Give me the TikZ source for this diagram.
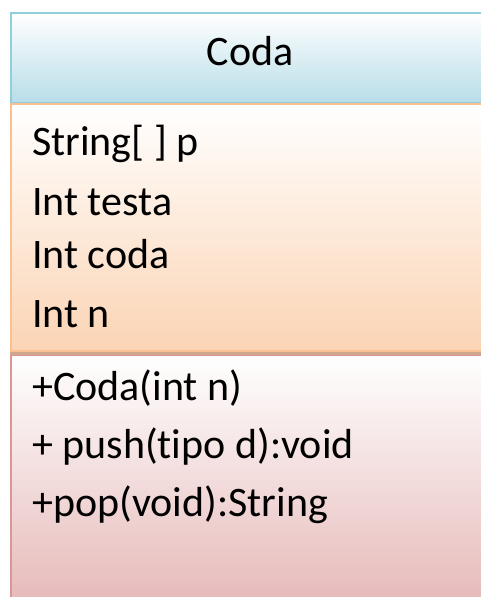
\documentclass[tikz,border=0pt]{standalone}
\usepackage{fontspec}
\setmainfont[Ligatures=NoCommon]{Carlito}
\usepackage{xcolor}
\usepackage{tikz}
\usetikzlibrary{positioning}

\definecolor{hdrblue}{RGB}{183,221,232}
\definecolor{hdrline}{RGB}{146,205,220}
\definecolor{attrpeach}{RGB}{251,212,180}
\definecolor{attrline}{RGB}{250,192,144}
\definecolor{methpink}{RGB}{229,184,183}
\definecolor{methline}{RGB}{217,150,148}
\definecolor{sepbrown}{RGB}{205,168,138}

\tikzset{
  member/.style={anchor=base west,inner sep=0pt,font=\fontsize{42}{50}\selectfont},
  classname/.style={anchor=base,inner sep=0pt,font=\fontsize{42}{50}\selectfont}
}

\begin{document}
\begin{tikzpicture}[x=1pt,y=1pt,yscale=-1,xscale=1]
\useasboundingbox (0,0) rectangle (481,597);
\clip (0,0) rectangle (481,597);

%Shape: Rectangle [header]
\draw [hdrline, line width=2, top color=white, bottom color=hdrblue] (10.5,13) rectangle (495,103) ;
%Shape: Rectangle [attributes]
\draw [attrline, line width=2, top color=white, bottom color=attrpeach] (10.5,104) rectangle (495,351) ;
%Shape: Rectangle [methods]
\draw [methline, line width=2, top color=white, bottom color=methpink] (10.5,355) rectangle (495,610) ;
%Straight Lines [separator]
\draw [sepbrown, line width=3] (10,353.5) -- (495,353.5) ;

% Text Node
\node [classname] (clsname) at (250,65) {Coda};
% Text Node
\node [member] (attrp) at (32,155) {String[ ] p};
% Text Node
\node [member] (attrtesta) at (32,215) {Int testa};
% Text Node
\node [member] (attrcoda) at (32,268) {Int coda};
% Text Node
\node [member] (attrn) at (32,327) {Int n};
% Text Node
\node [member] (methctor) at (32,400) {+Coda(int n)};
% Text Node
\node [member] (methpush) at (32,458) {+ push(tipo d):void};
% Text Node
\node [member] (methpop) at (32,516) {+pop(void):String};

\end{tikzpicture}
\end{document}
